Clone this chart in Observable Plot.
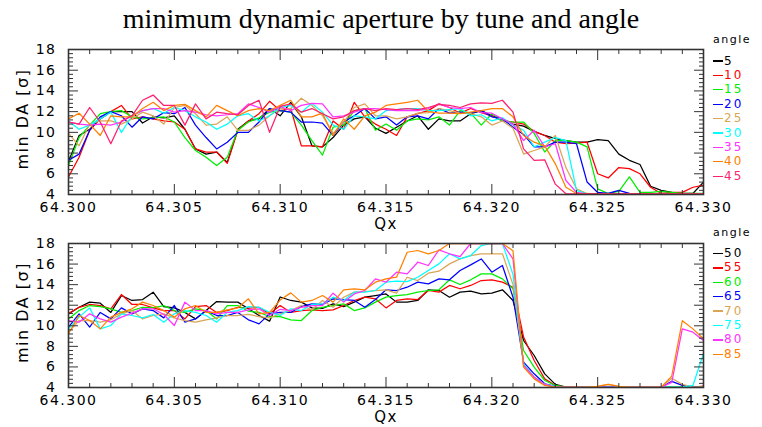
<!DOCTYPE html>
<html><head><meta charset="utf-8">
<script src="https://cdn.jsdelivr.net/npm/d3@7"></script>
<script src="https://cdn.jsdelivr.net/npm/@observablehq/plot@0.6"></script>
<style>
body{margin:0;background:#fff;}
#wrap{position:relative;width:762px;height:427px;overflow:hidden;background:#fff;}
#title{position:absolute;left:0;top:3px;width:762px;text-align:center;font-family:"Liberation Serif","Times New Roman",serif;font-size:28px;line-height:32px;color:#000;white-space:nowrap;}
.panel{position:absolute;left:0;}
.lg{position:absolute;left:0;top:0;font-family:"DejaVu Sans",sans-serif;}
.lgt{position:absolute;left:713px;font-size:11px;letter-spacing:1.5px;color:#000;line-height:12px;}
.lge{position:absolute;left:713px;font-size:12px;letter-spacing:2px;line-height:14px;white-space:nowrap;}
.lge span.d{display:inline-block;width:10px;height:1.3px;vertical-align:middle;margin-right:1px;}
</style></head>
<body><div id="wrap">
<div id="title">minimum dynamic aperture by tune and angle</div>
<div id="p1" class="panel" style="top:42px"></div>
<div id="p2" class="panel" style="top:234px"></div>
<div id="lg" class="lg"></div>
</div>
<script>
// ---------- data ----------
const qx = d3.range(61).map(i => +(64.300 + i * 0.0005).toFixed(4));
const xMajor = [64.300, 64.305, 64.310, 64.315, 64.320, 64.325, 64.330];
const xMinor = [64.301,64.302,64.303,64.304,64.306,64.307,64.308,64.309,64.311,64.312,64.313,64.314,64.316,64.317,64.318,64.319,64.321,64.322,64.323,64.324,64.326,64.327,64.328,64.329];
const yMajor = [4, 6, 8, 10, 12, 14, 16, 18];
const yMinor = [4.4,4.8,5.2,5.6,6.4,6.8,7.2,7.6,8.4,8.8,9.2,9.6,10.4,10.8,11.2,11.6,12.4,12.8,13.2,13.6,14.4,14.8,15.2,15.6,16.4,16.8,17.2,17.6];

const anglesTop = [5, 10, 15, 20, 25, 30, 35, 40, 45];
const anglesBottom = [50, 55, 60, 65, 70, 75, 80, 85];
const colorsTop = ["#000000", "#ff0000", "#00ee00", "#0000ff", "#dba556", "#00ffff", "#ff33ff", "#ff8000", "#ff1f6f"];
const colorsBottom = ["#000000", "#ff0000", "#00ee00", "#0000ff", "#dba556", "#00ffff", "#ff33ff", "#ff8000"];

const da5 = [7.2,9.7,10.3,11.3,12.0,12.0,12.0,10.9,11.5,11.4,11.6,10.3,8.4,7.9,8.1,7.1,10.3,11.1,11.3,12.3,11.6,
 12.9,11.5,8.7,8.6,9.5,10.7,11.3,11.5,10.4,9.9,10.5,11.1,11.6,10.3,11.3,11.1,11.1,11.8,
 12.1,11.6,11.3,10.8,10.6,10.1,9.7,9.4,9.2,9.05,9.05,9.3,9.2,7.9,7.3,6.9,4.8,4.4,4.2,4.1,4.1,5.2];
const da10 = [5.7,7.6,10.2,11.3,12.0,12.6,11.3,11.5,11.3,11.1,11.0,10.3,8.4,8.1,8.1,7.0,10.2,11.1,11.8,13.0,12.1,
 12.3,8.7,8.7,8.6,11.1,10.3,12.9,11.5,10.8,10.3,9.7,11.5,11.8,12.1,12.75,12.4,11.85,12.3,
 11.9,11.6,11.1,11.0,10.8,10.1,9.7,9.05,8.9,8.96,9.05,6.0,5.6,6.6,6.5,6.0,4.7,4.1,4.2,4.2,4.7,4.9];
const da15 = [6.8,9.5,10.7,11.8,12.0,12.1,11.5,11.3,11.4,11.5,11.0,9.5,8.25,7.6,6.8,7.6,10.2,11.0,11.4,11.95,12.1,
 11.95,10.7,9.2,7.8,10.5,10.7,12.1,12.3,10.2,10.8,10.2,11.1,11.3,11.2,11.5,10.7,12.1,11.85,
 10.7,11.8,11.1,11.0,11.0,9.9,8.1,9.2,9.2,9.05,8.6,4.55,4.1,4.3,5.7,4.2,4.2,4.3,4.2,4.1,4.1,4.1];
const da20 = [7.3,7.9,10.2,11.5,12.0,11.6,10.5,11.5,11.3,11.9,11.8,12.4,10.7,9.5,8.4,9.05,10.0,10.0,11.0,12.3,12.1,
 11.95,11.0,11.0,10.9,9.7,11.0,11.6,12.3,11.3,11.5,10.7,11.5,11.6,11.3,12.3,11.85,11.95,11.85,
 12.1,11.5,11.3,10.5,9.8,8.6,8.6,9.05,9.05,8.9,5.2,4.2,4.1,4.4,4.1,4.05,4.05,4.05,4.05,4.05,4.05,4.05];
const da25 = [9.9,8.7,10.8,11.1,11.1,10.8,11.3,11.95,11.6,10.8,12.4,12.6,11.8,10.7,10.8,11.5,10.2,10.2,10.7,11.6,12.3,
 12.3,13.3,12.6,11.6,9.9,11.0,12.4,12.75,11.6,11.6,11.3,11.5,11.85,11.9,12.3,12.1,11.85,11.8,
 11.5,10.7,11.1,10.4,7.9,8.25,8.6,9.7,6.6,4.55,4.1,4.05,4.05,4.05,4.05,4.05,4.05,4.05,4.05,4.05,4.05,4.05];
const da30 = [11.1,10.3,10.7,11.3,11.95,10.0,11.6,12.1,12.3,11.85,12.4,12.1,11.5,11.0,10.3,10.8,11.6,11.8,11.1,11.6,12.4,
 12.6,11.95,12.8,11.95,10.7,10.3,11.6,11.5,11.3,12.1,12.2,12.3,12.3,12.1,12.1,12.2,12.3,11.6,
 11.7,11.1,11.4,10.7,10.2,8.6,9.05,9.5,9.2,4.4,4.07,4.05,4.05,4.05,4.05,4.05,4.05,4.05,4.05,4.05,4.05,4.05];
const da35 = [11.0,10.8,10.7,10.8,10.7,11.0,11.6,12.1,12.3,12.3,11.95,12.1,11.95,11.7,11.6,11.7,11.8,12.75,12.4,11.95,12.5,
 12.1,12.6,12.8,12.75,11.5,11.6,11.95,12.3,12.3,12.2,12.1,12.1,12.1,12.3,12.75,12.4,12.3,12.4,
 11.9,11.85,11.3,10.8,9.2,10.2,8.6,8.9,5.35,4.2,4.05,4.05,4.05,4.05,4.05,4.05,4.05,4.05,4.05,4.05,4.05,4.05];
const da40 = [11.3,11.85,10.8,9.7,11.6,11.5,11.5,12.3,12.9,12.1,12.6,12.7,12.1,11.5,12.6,12.1,11.6,12.1,12.3,12.1,12.6,
 13.1,11.5,11.5,11.85,9.7,11.3,10.3,11.6,11.95,12.6,12.75,12.9,13.1,12.0,11.85,11.85,11.8,11.95,
 12.1,12.3,12.3,11.5,9.7,9.05,8.7,6.96,4.7,4.1,4.05,4.05,4.05,4.05,4.05,4.05,4.05,4.05,4.05,4.05,4.05,4.05];
const da45 = [11.0,10.8,12.4,11.0,8.9,11.1,11.6,13.1,13.6,12.6,12.6,10.7,12.75,11.3,11.95,11.8,11.7,12.6,13.1,10.0,12.5,
 12.75,11.95,12.3,11.8,11.3,11.5,12.1,12.3,12.1,12.3,12.2,12.3,12.2,12.4,12.7,12.6,12.4,12.75,
 12.85,12.8,13.1,11.95,8.4,7.3,7.35,5.0,4.07,4.05,4.05,4.05,4.05,4.05,4.05,4.05,4.05,4.05,4.05,4.05,4.05,4.05];

const da50 = [11.16,11.8,12.3,12.2,11.3,12.94,12.46,12.55,13.27,11.87,11.74,11.3,10.67,11.48,12.36,12.3,12.3,11.65,11.0,10.45,12.8,
 12.46,12.3,11.74,11.7,12.13,11.87,12.3,12.78,12.94,13.1,12.3,12.3,12.46,13.5,13.43,12.78,13.27,13.36,
 13.1,13.17,13.5,12.46,8.57,7.11,5.33,4.3,4.03,4.02,4.02,4.02,4.02,4.02,4.02,4.02,4.02,4.02,4.02,4.02,4.02,4.1];
const da55 = [11.2,11.8,12.07,11.97,11.65,13.04,12.07,12.07,11.74,11.48,11.48,10.67,11.87,11.97,11.3,11.48,11.8,11.71,11.8,11.16,11.97,
 11.3,11.48,11.55,11.48,11.55,11.97,12.46,12.78,12.62,11.74,12.46,12.62,12.55,13.43,13.27,13.92,13.6,13.92,
 14.4,14.47,14.24,13.75,8.9,6.63,4.84,4.2,4.02,4.02,4.02,4.02,4.02,4.02,4.02,4.02,4.02,4.02,4.02,4.02,4.02,4.15];
const da60 = [10.67,11.48,11.97,11.87,11.65,11.3,11.48,11.8,11.74,11.97,11.48,11.3,11.65,11.48,10.67,11.97,11.97,11.42,11.3,10.9,10.9,
 10.58,10.51,11.48,11.8,11.97,12.13,11.48,11.74,12.3,12.78,12.94,13.04,13.27,13.43,13.5,14.47,14.01,14.47,
 15.05,15.05,14.56,13.6,7.6,5.98,4.68,4.2,4.03,4.05,4.08,4.03,4.03,4.03,4.03,4.03,4.03,4.03,4.03,4.03,4.03,4.1];
const da65 = [9.87,11.16,9.87,11.3,10.67,11.74,11.16,11.65,11.48,10.77,11.97,10.35,10.67,11.48,11.0,11.0,11.3,10.58,10.19,11.16,11.3,
 11.3,11.87,12.13,12.07,12.62,12.55,12.46,11.8,12.55,13.5,13.43,13.75,14.24,14.08,14.56,14.47,15.37,15.92,
 16.5,15.21,15.86,12.78,6.46,5.33,4.36,4.1,4.05,4.03,4.03,4.03,4.05,4.03,4.03,4.03,4.03,4.03,4.6,4.2,4.05,4.05];
const da70 = [9.38,10.51,10.51,10.35,10.58,11.16,11.48,10.67,11.0,11.16,10.77,10.51,10.35,10.58,10.77,11.0,11.0,11.1,10.9,10.77,11.16,
 11.48,11.97,11.55,12.46,11.8,12.78,13.27,13.33,13.43,13.5,13.17,14.72,14.4,15.11,15.31,16.02,16.5,16.83,
 17.0,17.0,17.0,14.0,6.3,5.0,4.3,4.05,4.03,4.03,4.03,4.1,4.3,4.1,4.03,4.03,4.03,4.03,4.9,4.3,4.05,4.05];
const da75 = [9.7,10.84,11.74,9.7,10.03,11.16,11.0,10.77,11.1,10.35,11.16,11.48,11.3,11.0,10.35,11.3,11.48,11.87,11.8,11.3,11.0,
 11.65,11.48,12.07,12.13,12.78,12.46,13.27,13.27,13.43,14.24,14.34,14.3,14.72,15.37,16.02,17.0,16.5,16.83,
 17.8,18,18,15.0,6.3,5.0,4.3,4.1,4.03,4.03,4.03,4.03,4.03,4.03,4.03,4.03,4.03,4.03,4.03,4.03,4.2,7.3];
const da80 = [10.51,10.35,11.16,10.67,10.35,10.84,11.23,11.65,11.65,11.1,10.03,12.3,11.48,11.48,11.16,11.3,11.3,11.55,11.65,11.0,11.6,
 11.48,11.8,11.97,11.97,13.17,12.3,13.1,13.43,14.56,14.24,15.21,15.05,16.18,15.86,17.38,17.0,16.73,18,
 18,18,18,16.5,6.14,5.0,4.3,4.05,4.03,4.03,4.03,4.03,4.03,4.03,4.03,4.03,4.03,4.03,4.5,9.7,9.38,8.57];
const da85 = [9.22,11.0,10.51,9.7,10.84,11.3,11.65,12.3,11.97,11.48,10.84,11.65,11.97,11.3,11.3,11.55,11.74,12.62,11.16,11.3,12.5,
 13.2,12.3,12.46,12.94,12.3,13.5,13.6,13.5,14.24,14.56,14.72,17.15,17.32,17.0,17.32,18,18,18,
 18,18,18,17.3,5.98,4.84,4.2,4.03,4.03,4.03,4.03,4.1,4.3,4.1,4.03,4.03,4.03,4.03,5.1,10.5,9.7,8.73];

const seriesTop = [da5, da10, da15, da20, da25, da30, da35, da40, da45];
const seriesBottom = [da50, da55, da60, da65, da70, da75, da80, da85];

// ---------- drawing ----------
function rowsOf(angles, series) {
  return angles.flatMap((a, k) => series[k].map((v, i) => ({qx: qx[i], da: v, angle: a})));
}

function panel(angles, colors, series, height, marginTop) {
  const rows = rowsOf(angles, series);
  const noText = {fill: "none", label: null};
  return Plot.plot({
    width: 762, height,
    marginLeft: 68, marginRight: 59, marginTop, marginBottom: 40,
    x: {domain: [64.300, 64.330], label: null},
    y: {domain: [4, 18], label: null},
    color: {type: "ordinal", domain: angles, range: colors},
    style: "background:#fff;color:#000;font-family:'DejaVu Sans',sans-serif;font-size:14px;letter-spacing:1.5px;overflow:visible;",
    marks: [
      Plot.line(rows, {x: "qx", y: "da", z: "angle", stroke: "angle", strokeWidth: 1.25, clip: true}),
      Plot.frame({stroke: "#333", strokeWidth: 1.6}),
      Plot.axisX({anchor: "bottom", ticks: xMajor, tickSize: 0, tickPadding: 8, tickFormat: d3.format(".3f"), label: null}),
      Plot.axisX({anchor: "bottom", ticks: xMajor, tickSize: -10, stroke: "#333", ...noText}),
      Plot.axisX({anchor: "bottom", ticks: xMinor, tickSize: -4, stroke: "#333", ...noText}),
      Plot.axisX({anchor: "top", ticks: xMajor, tickSize: -10, stroke: "#333", ...noText}),
      Plot.axisX({anchor: "top", ticks: xMinor, tickSize: -4, stroke: "#333", ...noText}),
      Plot.axisY({anchor: "left", ticks: yMajor, tickSize: 0, tickPadding: 12, label: null}),
      Plot.axisY({anchor: "left", ticks: yMajor, tickSize: -10, stroke: "#333", ...noText}),
      Plot.axisY({anchor: "left", ticks: yMinor, tickSize: -5, stroke: "#333", ...noText}),
      Plot.axisY({anchor: "right", ticks: yMajor, tickSize: -10, stroke: "#333", ...noText}),
      Plot.axisY({anchor: "right", ticks: yMinor, tickSize: -5, stroke: "#333", ...noText}),
      Plot.text(["Qx"], {text: d => d, frameAnchor: "bottom", textAnchor: "middle", dy: 34, fontSize: 15}),
      Plot.text(["min DA [σ]"], {text: d => d, frameAnchor: "left", textAnchor: "middle", dx: -46, dy: -3, rotate: -90, fontSize: 16})
    ]
  });
}

document.getElementById("p1").append(panel(anglesTop, colorsTop, seriesTop, 192, 7));
document.getElementById("p2").append(panel(anglesBottom, colorsBottom, seriesBottom, 193, 9));

// legends
const lg = document.getElementById("lg");
function legend(angles, colors, titleY, firstY, step) {
  const t = document.createElement("div");
  t.className = "lgt"; t.textContent = "angle"; t.style.top = (titleY - 6) + "px";
  lg.append(t);
  angles.forEach((a, k) => {
    const e = document.createElement("div");
    e.className = "lge";
    e.style.top = (firstY + k * step - 7) + "px";
    e.style.color = colors[k];
    const d = document.createElement("span");
    d.className = "d"; d.style.background = colors[k];
    e.append(d, document.createTextNode(String(a)));
    lg.append(e);
  });
}
legend(anglesTop, colorsTop, 40, 60.5, 14.4);
legend(anglesBottom, colorsBottom, 233, 253, 14.4);
</script>
</body></html>
